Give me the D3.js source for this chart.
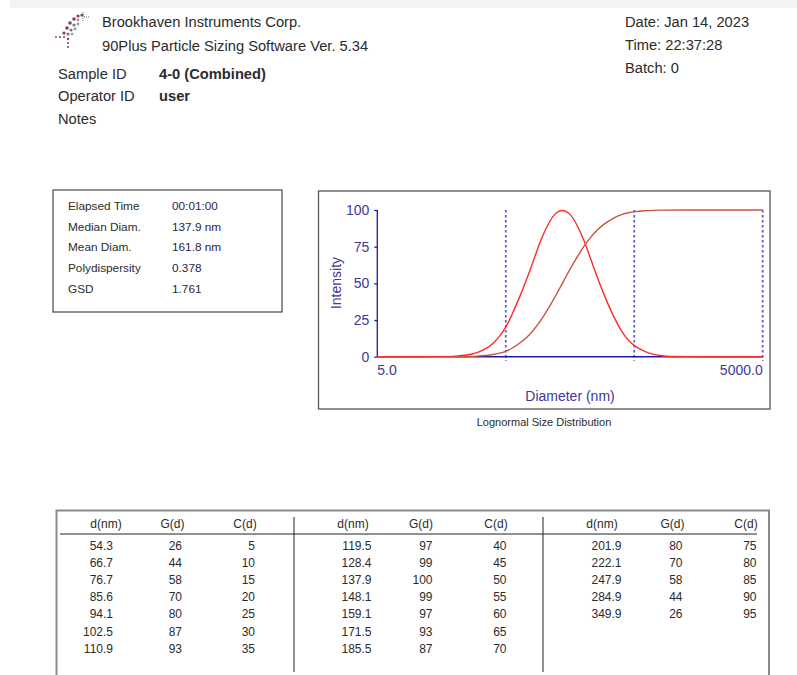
<!DOCTYPE html>
<html>
<head>
<meta charset="utf-8">
<script src="https://cdn.jsdelivr.net/npm/d3@7/dist/d3.min.js"></script>
<style>
  html, body { margin: 0; padding: 0; background: #fff; }
  svg { display: block; font-family: "Liberation Sans", Arial, Helvetica, sans-serif; }
</style>
</head>
<body>
<svg id="report" width="797" height="675"></svg>
<script>
// ---- Report header --------------------------------------------------------
const headerLines = ["Brookhaven Instruments Corp.", "90Plus Particle Sizing Software Ver. 5.34"];
const runInfo = ["Date: Jan 14, 2023", "Time: 22:37:28", "Batch: 0"];
const sampleLabels = ["Sample ID", "Operator ID", "Notes"];
const sampleValues = ["4-0 (Combined)", "user", ""];

// ---- Summary statistics ---------------------------------------------------
const statLabels = ["Elapsed Time", "Median Diam.", "Mean Diam.", "Polydispersity", "GSD"];
const statValues = ["00:01:00", "137.9 nm", "161.8 nm", "0.378", "1.761"];

// ---- Tabulated distribution: diameter, differential G(d), cumulative C(d) --
const tableDiam = [54.3, 66.7, 76.7, 85.6, 94.1, 102.5, 110.9,
                   119.5, 128.4, 137.9, 148.1, 159.1, 171.5, 185.5,
                   201.9, 222.1, 247.9, 284.9, 349.9];
const tableG = [26, 44, 58, 70, 80, 87, 93,
                97, 99, 100, 99, 97, 93, 87,
                80, 70, 58, 44, 26];
const tableC = [5, 10, 15, 20, 25, 30, 35,
                40, 45, 50, 55, 60, 65, 70,
                75, 80, 85, 90, 95];
const tableHeaders = ["d(nm)", "G(d)", "C(d)"];

// ---- Curve tails outside the tabulated range ------------------------------
const gLeftDiam  = [5, 18, 20, 25, 30, 35, 40, 45, 50];
const gLeftVal   = [0, 0, 0.3, 1, 2.6, 5.3, 9, 14, 20];
const gRightDiam = [400, 450, 500, 600, 700, 800, 900, 1000, 5000];
const gRightVal  = [17, 11, 7.5, 3.4, 1.6, 0.8, 0.3, 0, 0];

const cLeftDiam  = [20, 25, 30, 35, 40, 45, 50];
const cLeftVal   = [0, 0.1, 0.35, 0.8, 1.4, 2.4, 3.6];
const cRightDiam = [400, 450, 500, 600, 700, 800, 1000, 5000];
const cRightVal  = [97, 98.2, 98.9, 99.5, 99.8, 99.9, 100, 100];

// ---- Axis setup -----------------------------------------------------------
const xDomain = [5, 5000];
const yTicks = [0, 25, 50, 75, 100];
const xLabels = ["5.0", "5000.0"];
const markerDiams = [50, 500, 5000];

const svg = d3.select("#report");
const textColor = "#2b2b2b";
const axisColor = "#1c1ca0";
const tickColor = "#40389a";
const bodySize = 14.7;

// light band at the top of the page
svg.append("rect").attr("x", 10).attr("y", 0).attr("width", 787).attr("height", 8)
  .attr("fill", "#f3f3f3");

// company logo: a diagonal cluster of small dots
const logo = svg.append("g").attr("transform", "translate(56,12)");
const logoDots = [
  [22,4,1.6,"#8c3a5a"],[26,3,1.6,"#8c3a5a"],[18,7,1.8,"#8c3a5a"],[22,8,1.4,"#9a9a9a"],
  [14,11,1.8,"#8c3a5a"],[18,13,1.6,"#7a7a7a"],[22,12,1.4,"#9a9a9a"],[11,16,1.8,"#8c3a5a"],
  [15,18,1.6,"#7a7a7a"],[19,17,1.4,"#9a9a9a"],[8,21,1.6,"#8c3a5a"],[12,22,1.6,"#7a7a7a"],
  [16,22,1.3,"#9a9a9a"],[4,25,1.0,"#8c3a5a"],[8,25,1.0,"#8c3a5a"],[12,27,1.2,"#8c3a5a"],
  [12,31,1.0,"#8c3a5a"],[12,35,1.0,"#8c3a5a"],[0,25,0.9,"#8c3a5a"]
];
logo.selectAll("circle").data(logoDots).join("circle")
  .attr("cx", d => d[0]).attr("cy", d => d[1]).attr("r", d => d[2]).attr("fill", d => d[3]);
logo.append("line").attr("x1", 27).attr("y1", 0).attr("x2", 27).attr("y2", 9)
  .attr("stroke", "#666").attr("stroke-width", 1).attr("stroke-dasharray", "1,1");
logo.append("line").attr("x1", 28).attr("y1", 5).attr("x2", 34).attr("y2", 5)
  .attr("stroke", "#666").attr("stroke-width", 1).attr("stroke-dasharray", "1,1");

svg.selectAll("text.hdr").data(headerLines).join("text").attr("class", "hdr")
  .attr("x", 102).attr("y", (d, i) => 27 + i * 23.5)
  .attr("font-size", bodySize).attr("fill", textColor).text(d => d);

svg.selectAll("text.run").data(runInfo).join("text").attr("class", "run")
  .attr("x", 625).attr("y", (d, i) => 27 + i * 23)
  .attr("font-size", bodySize).attr("fill", textColor).text(d => d);

svg.selectAll("text.slab").data(sampleLabels).join("text").attr("class", "slab")
  .attr("x", 58).attr("y", (d, i) => 78.5 + i * 22.5)
  .attr("font-size", bodySize).attr("fill", textColor).text(d => d);
svg.selectAll("text.sval").data(sampleValues).join("text").attr("class", "sval")
  .attr("x", 159).attr("y", (d, i) => 78.5 + i * 22.5)
  .attr("font-size", bodySize).attr("font-weight", "bold").attr("fill", textColor).text(d => d);

// ---- Statistics box -------------------------------------------------------
svg.append("rect").attr("x", 53).attr("y", 190).attr("width", 229).attr("height", 122)
  .attr("fill", "none").attr("stroke", "#555").attr("stroke-width", 1.3);
svg.selectAll("text.stl").data(statLabels).join("text").attr("class", "stl")
  .attr("x", 68).attr("y", (d, i) => 209.8 + i * 20.8)
  .attr("font-size", 11.8).attr("fill", textColor).text(d => d);
svg.selectAll("text.stv").data(statValues).join("text").attr("class", "stv")
  .attr("x", 172).attr("y", (d, i) => 209.8 + i * 20.8)
  .attr("font-size", 11.8).attr("fill", "#2e2448").text(d => d);

// ---- Distribution chart ---------------------------------------------------
svg.append("rect").attr("x", 318.5).attr("y", 191).attr("width", 451.5).attr("height", 218)
  .attr("fill", "none").attr("stroke", "#555").attr("stroke-width", 1.3);

const x = d3.scaleLog().domain(xDomain).range([377.3, 762.7]);
const y = d3.scaleLinear().domain([0, 100]).range([356.7, 210]);

// dotted guide lines at decade markers
svg.selectAll("line.guide").data(markerDiams).join("line").attr("class", "guide")
  .attr("x1", d => x(d)).attr("x2", d => x(d))
  .attr("y1", y(100)).attr("y2", y(0) + 4)
  .attr("stroke", "#6460c8").attr("stroke-width", 1.8).attr("stroke-dasharray", "2.5,2.5");

// y axis
const yAxis = d3.axisLeft(y).tickValues(yTicks).tickSize(3).tickPadding(5).tickFormat(d3.format("d"));
const gy = svg.append("g").attr("transform", `translate(${x(xDomain[0])},0)`).call(yAxis);
gy.select(".domain").attr("stroke", axisColor).attr("stroke-width", 1.3).attr("d", `M0,${y(100)}V${y(0)}`);
gy.selectAll(".tick line").attr("stroke", axisColor).attr("stroke-width", 1.3);
gy.selectAll(".tick text").attr("fill", tickColor).attr("font-size", 14)
  .attr("font-family", "'Liberation Sans', Arial, sans-serif");

// x axis baseline
svg.append("line").attr("x1", x(xDomain[0])).attr("x2", x(xDomain[1]))
  .attr("y1", y(0)).attr("y2", y(0)).attr("stroke", axisColor).attr("stroke-width", 1.5);

svg.append("text").attr("x", x(xDomain[0])).attr("y", 375).attr("font-size", 14)
  .attr("fill", tickColor).text(xLabels[0]);
svg.append("text").attr("x", x(xDomain[1])).attr("y", 375).attr("font-size", 14)
  .attr("text-anchor", "end").attr("fill", tickColor).text(xLabels[1]);

svg.append("text").attr("x", (x(xDomain[0]) + x(xDomain[1])) / 2).attr("y", 400.5)
  .attr("text-anchor", "middle").attr("font-size", 14).attr("fill", tickColor).text("Diameter (nm)");
svg.append("text").attr("transform", `translate(341,283) rotate(-90)`)
  .attr("text-anchor", "middle").attr("font-size", 14).attr("fill", tickColor).text("Intensity");

svg.append("text").attr("x", 544).attr("y", 426).attr("text-anchor", "middle")
  .attr("font-size", 11).attr("fill", textColor).text("Lognormal Size Distribution");

// curve points
const gPoints = gLeftDiam.map((d, i) => [d, gLeftVal[i]])
  .concat(tableDiam.map((d, i) => [d, tableG[i]]))
  .concat(gRightDiam.map((d, i) => [d, gRightVal[i]]));
const cPoints = cLeftDiam.map((d, i) => [d, cLeftVal[i]])
  .concat(tableDiam.map((d, i) => [d, tableC[i]]))
  .concat(cRightDiam.map((d, i) => [d, cRightVal[i]]));

// B-spline smooths the integer rounding of the tabulated values
const line = d3.line().x(d => x(d[0])).y(d => y(d[1])).curve(d3.curveBasis);
svg.append("path").datum(gPoints).attr("d", line)
  .attr("fill", "none").attr("stroke", "#ff2b2b").attr("stroke-width", 1.4);
svg.append("path").datum(cPoints).attr("d", line)
  .attr("fill", "none").attr("stroke", "#c8553f").attr("stroke-width", 1.4);

// ---- Data table -----------------------------------------------------------
const tableTop = 510.5;
svg.append("path")
  .attr("d", `M56.5,680V${tableTop}H769V680`)
  .attr("fill", "none").attr("stroke", "#8a8a8a").attr("stroke-width", 2);
svg.append("line").attr("x1", 60).attr("x2", 757).attr("y1", 534).attr("y2", 534)
  .attr("stroke", "#222").attr("stroke-width", 1);
[294, 543].forEach(xx => {
  svg.append("line").attr("x1", xx).attr("x2", xx).attr("y1", 517).attr("y2", 672)
    .attr("stroke", "#222").attr("stroke-width", 1);
});

const rowsPerBlock = 7;
const blockCols = [[113, 182, 255], [371.5, 432.5, 506.5], [621.5, 682.5, 756.5]];
const headerX = [[106, 172.5, 245], [353, 421, 496], [602, 672.5, 746]];
blockCols.forEach((cols, b) => {
  tableHeaders.forEach((h, j) => {
    svg.append("text").attr("x", headerX[b][j]).attr("y", 527.5).attr("text-anchor", "middle")
      .attr("font-size", 12).attr("fill", textColor).text(h);
  });
  const start = b * rowsPerBlock;
  const idx = d3.range(start, Math.min(start + rowsPerBlock, tableDiam.length));
  idx.forEach((k, r) => {
    const yy = 549.5 + r * 17.2;
    [tableDiam[k].toFixed(1), String(tableG[k]), String(tableC[k])].forEach((v, j) => {
      svg.append("text").attr("x", cols[j]).attr("y", yy).attr("text-anchor", "end")
        .attr("font-size", 12).attr("fill", textColor).text(v);
    });
  });
});
</script>
</body>
</html>
